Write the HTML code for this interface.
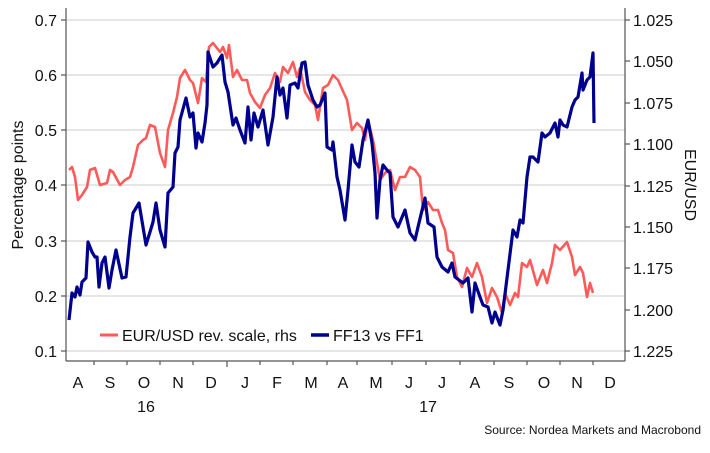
<!DOCTYPE html>
<html><head><meta charset="utf-8"><style>
body{margin:0;background:#fff;}
svg text{font-family:"Liberation Sans",sans-serif;fill:#111;}
</style></head><body>
<svg width="710" height="448" viewBox="0 0 710 448" xmlns="http://www.w3.org/2000/svg">
<g stroke="#e6e6e6" stroke-width="2">
<line x1="66" y1="20" x2="625" y2="20"/><line x1="66" y1="75" x2="625" y2="75"/>
<line x1="66" y1="130" x2="625" y2="130"/><line x1="66" y1="185" x2="625" y2="185"/>
<line x1="66" y1="241" x2="625" y2="241"/><line x1="66" y1="296" x2="625" y2="296"/>
<line x1="66" y1="351" x2="625" y2="351"/>
</g>
<g stroke="#555" stroke-width="1.2">
<line x1="66" y1="8" x2="66" y2="361"/><line x1="625" y1="8" x2="625" y2="361"/>
<line x1="66" y1="361" x2="625" y2="361"/>
<line x1="61" y1="20" x2="66" y2="20"/><line x1="61" y1="75" x2="66" y2="75"/><line x1="61" y1="130" x2="66" y2="130"/><line x1="61" y1="185" x2="66" y2="185"/><line x1="61" y1="241" x2="66" y2="241"/><line x1="61" y1="296" x2="66" y2="296"/><line x1="61" y1="351" x2="66" y2="351"/>
<line x1="625" y1="20" x2="630" y2="20"/><line x1="625" y1="61" x2="630" y2="61"/><line x1="625" y1="103" x2="630" y2="103"/><line x1="625" y1="144" x2="630" y2="144"/><line x1="625" y1="186" x2="630" y2="186"/><line x1="625" y1="227" x2="630" y2="227"/><line x1="625" y1="268" x2="630" y2="268"/><line x1="625" y1="310" x2="630" y2="310"/><line x1="625" y1="351" x2="630" y2="351"/>
<line x1="94" y1="361" x2="94" y2="365"/><line x1="127" y1="361" x2="127" y2="365"/><line x1="160" y1="361" x2="160" y2="365"/><line x1="193" y1="361" x2="193" y2="365"/><line x1="227" y1="361" x2="227" y2="367"/><line x1="260" y1="361" x2="260" y2="365"/><line x1="293" y1="361" x2="293" y2="365"/><line x1="327" y1="361" x2="327" y2="365"/><line x1="357" y1="361" x2="357" y2="365"/><line x1="392" y1="361" x2="392" y2="365"/><line x1="426" y1="361" x2="426" y2="365"/><line x1="460" y1="361" x2="460" y2="365"/><line x1="494" y1="361" x2="494" y2="365"/><line x1="527" y1="361" x2="527" y2="365"/><line x1="560" y1="361" x2="560" y2="365"/><line x1="593" y1="361" x2="593" y2="365"/>
</g>
<g font-size="16" text-anchor="end">
<text x="57" y="26">0.7</text><text x="57" y="81">0.6</text><text x="57" y="136">0.5</text><text x="57" y="191">0.4</text><text x="57" y="247">0.3</text><text x="57" y="302">0.2</text><text x="57" y="357">0.1</text>
</g>
<g font-size="16">
<text x="633" y="26">1.025</text><text x="633" y="67">1.050</text><text x="633" y="109">1.075</text><text x="633" y="150">1.100</text><text x="633" y="192">1.125</text><text x="633" y="233">1.150</text><text x="633" y="274">1.175</text><text x="633" y="316">1.200</text><text x="633" y="357">1.225</text>
</g>
<g font-size="16" text-anchor="middle">
<text x="78" y="388">A</text><text x="110" y="388">S</text><text x="144" y="388">O</text><text x="178" y="388">N</text><text x="211" y="388">D</text><text x="245" y="388">J</text><text x="277" y="388">F</text><text x="311" y="388">M</text><text x="343" y="388">A</text><text x="376" y="388">M</text><text x="409" y="388">J</text><text x="442" y="388">J</text><text x="475" y="388">A</text><text x="509" y="388">S</text><text x="544" y="388">O</text><text x="577" y="388">N</text><text x="610" y="388">D</text>
<text x="146" y="412">16</text><text x="428" y="412">17</text>
</g>
<text font-size="16" text-anchor="middle" transform="translate(23,185) rotate(-90)">Percentage points</text>
<text font-size="16" text-anchor="middle" transform="translate(685,185) rotate(90)">EUR/USD</text>
<text font-size="12" text-anchor="end" x="701" y="434">Source: Nordea Markets and Macrobond</text>
<polyline fill="none" stroke="#ff5a5a" stroke-width="2.6" stroke-linejoin="round" points="69,170 72,167 75,177 78,200 82,195 87,187 90,170 95,168 100,185 107,183 110,170 113,172 120,185 125,180 130,177 133,167 138,145 143,140 146,138 150,125 155,127 160,153 165,167 168,130 173,113 177,97 180,78 185,70 190,80 193,83 198,103 202,78 206,82 209,47 213,43 220,52 223,47 227,58 229,45 233,77 237,70 242,80 247,80 250,93 255,102 260,108 265,95 270,88 275,73 280,82 283,67 288,73 293,62 297,77 300,68 305,92 310,100 315,105 318,120 323,88 328,85 333,75 338,80 347,100 352,130 357,123 362,128 365,140 368,120 373,140 377,163 380,180 385,173 390,170 395,190 400,177 405,177 410,167 415,170 420,177 423,210 428,202 433,210 438,210 442,223 445,230 448,250 453,253 457,277 462,287 467,268 472,277 477,263 482,277 487,303 492,288 497,297 502,313 505,293 510,305 515,293 518,297 522,263 527,267 530,260 537,285 543,270 547,283 552,263 555,245 560,250 567,242 572,257 575,275 580,267 583,273 587,297 590,283 593,293"/>
<polyline fill="none" stroke="#00008f" stroke-width="3.2" stroke-linejoin="round" points="69,320 72,293 75,297 77,287 80,295 82,282 86,278 88,242 92,252 95,257 97,257 99,287 102,263 105,257 109,288 112,270 116,250 122,278 126,277 130,237 133,213 139,203 143,227 146,245 150,232 153,222 156,203 160,230 165,247 168,193 173,187 175,153 178,147 180,120 186,98 190,117 193,113 196,148 198,133 202,142 205,123 207,105 208,52 213,67 217,63 222,55 225,82 228,92 233,125 236,118 240,130 245,143 248,107 251,140 254,113 258,127 263,110 268,145 273,117 277,77 280,95 283,88 287,118 290,85 295,83 298,88 302,63 305,62 308,85 313,100 317,107 320,105 325,93 327,147 332,150 333,142 337,177 340,190 345,220 348,190 352,145 355,162 359,167 363,140 368,120 372,143 375,173 377,218 380,180 383,165 387,170 390,173 393,217 398,227 405,210 410,233 415,240 418,227 425,198 428,223 434,227 437,257 442,267 448,272 452,263 455,277 463,283 468,278 472,312 475,283 480,297 483,305 488,307 492,323 495,312 500,325 503,310 508,270 513,230 517,237 520,220 523,223 527,177 530,157 533,157 538,162 542,133 545,137 550,133 555,123 558,137 560,120 563,125 567,127 572,107 575,100 578,97 582,73 583,90 587,80 590,77 593,53 594,123"/>
<line x1="100" y1="335" x2="118" y2="335" stroke="#ff5a5a" stroke-width="3"/>
<text x="122" y="341" font-size="16">EUR/USD rev. scale, rhs</text>
<line x1="311" y1="335" x2="329" y2="335" stroke="#00008f" stroke-width="3.5"/>
<text x="333" y="341" font-size="16">FF13 vs FF1</text>
</svg>
</body></html>
